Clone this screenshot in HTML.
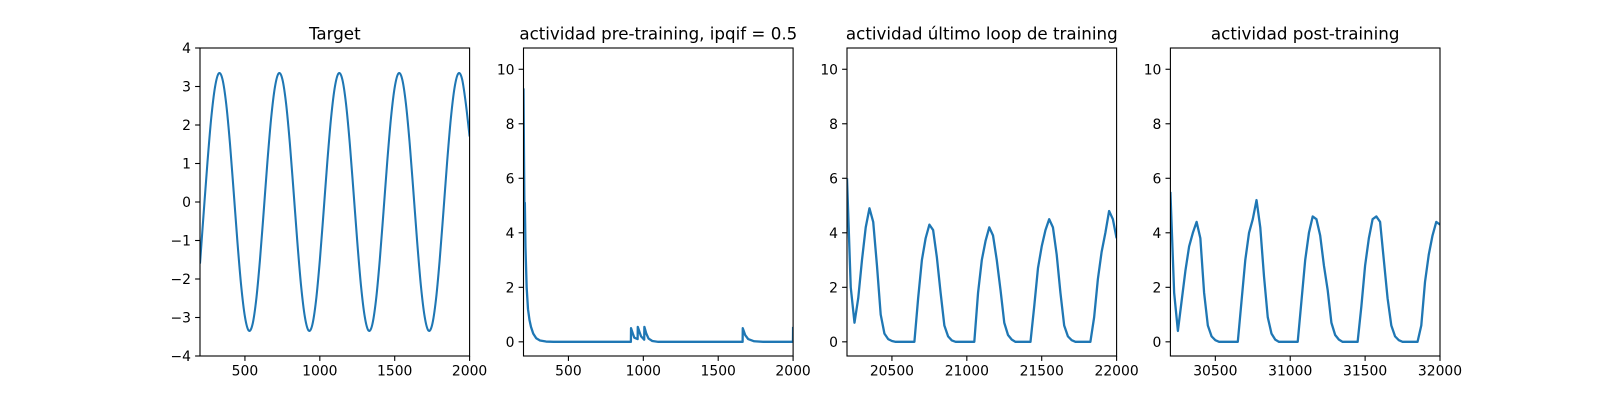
<!DOCTYPE html>
<html><head><meta charset="utf-8"><style>
body{margin:0;background:#fff}
svg{display:block}
text{font-family:"DejaVu Sans","Liberation Sans",sans-serif;fill:#000}
</style></head><body>
<svg id="fig" width="1600" height="400" viewBox="0 0 1600 400" xmlns="http://www.w3.org/2000/svg"></svg>
<script>
// Panel 1: Target
const targetX0 = 200, targetStep = 25;
const targetVals = [-1.6,-0.26,1.04,2.18,2.98,3.34,3.19,2.55,1.52,0.26,-1.04,-2.18,-2.98,-3.34,-3.19,-2.55,
 -1.52,-0.26,1.04,2.18,2.98,3.34,3.19,2.55,1.52,0.26,-1.04,-2.18,-2.98,-3.34,-3.19,-2.55,
 -1.52,-0.26,1.04,2.18,2.98,3.34,3.19,2.55,1.52,0.26,-1.04,-2.18,-2.98,-3.34,-3.19,-2.55,
 -1.52,-0.26,1.04,2.18,2.98,3.34,3.19,2.55,1.52,0.26,-1.04,-2.18,-2.98,-3.34,-3.19,-2.55,
 -1.52,-0.26,1.04,2.18,2.98,3.34,3.19,2.55,1.7];
// Panel 2: pre-training
const preX = [200,203,206,209,213,221,230,240,250,265,285,310,350,400,917,918,930,940,962,963,975,985,1006,1007,1020,1035,1060,1100,1663,1664,1680,1700,1740,1800,1999,2000];
const preY = [9.3,7,5,5.1,3.5,2.0,1.2,0.8,0.55,0.3,0.13,0.05,0.01,0,0,0.5,0.3,0.15,0.1,0.55,0.35,0.2,0.08,0.55,0.3,0.12,0.03,0,0,0.5,0.25,0.1,0.02,0,0,0.55];
// Panel 3: last training loop
const lastX0 = 20200, lastStep = 25;
const lastVals = [6.0,2.0,0.7,1.6,3.0,4.2,4.9,4.4,2.8,1.0,0.3,0.1,0.03,
 0,0,0,0,0,0,
 1.6,3.0,3.8,4.3,4.1,3.1,1.8,0.6,0.2,0.05,
 0,0,0,0,0,0,
 1.8,3.0,3.7,4.2,3.9,3.0,1.9,0.7,0.25,0.08,
 0,0,0,0,0,
 1.3,2.7,3.5,4.1,4.5,4.2,3.2,1.8,0.6,0.2,0.06,
 0,0,0,0,0,
 0.9,2.3,3.3,4.0,4.8,4.5,3.8];
// Panel 4: post-training
const postX0 = 30200, postStep = 25;
const postVals = [5.5,1.8,0.4,1.5,2.6,3.5,4.0,4.4,3.8,1.8,0.6,0.2,0.06,
 0,0,0,0,0,0,
 1.5,3.0,4.0,4.5,5.2,4.2,2.4,0.9,0.3,0.08,
 0,0,0,0,0,0,
 1.5,3.0,4.0,4.6,4.5,3.9,2.8,1.9,0.7,0.25,0.08,
 0,0,0,0,0,
 1.3,2.8,3.8,4.5,4.6,4.4,3.0,1.6,0.6,0.2,0.06,
 0,0,0,0,0,
 0.6,2.2,3.2,3.9,4.4,4.3];
const yTicks1 = [-4,-3,-2,-1,0,1,2,3,4];
const yTicksAct = [0,2,4,6,8,10];
const xTicks1 = [500,1000,1500,2000];
const xTicks3 = [20500,21000,21500,22000];
const xTicks4 = [30500,31000,31500,32000];

const NS="http://www.w3.org/2000/svg";
const fig=document.getElementById('fig');
function mk(tag,attrs,parent){const e=document.createElementNS(NS,tag);for(const k in attrs)e.setAttribute(k,attrs[k]);(parent||fig).appendChild(e);return e;}
const T=48,B=356,W=269.6;
function fmt(v){return v<0?'\u2212'+(-v):String(v);}
function panel(name,left,title,xmin,xmax,ymin,ymax,xt,yt,xs,ys,smooth){
  const g=mk('g',{});
  
  
  const sx=v=>left+(v-xmin)/(xmax-xmin)*W;
  const sy=v=>B-(v-ymin)/(ymax-ymin)*(B-T);
  const cp=mk('clipPath',{id:'c'+name},g);mk('rect',{x:left,y:T,width:W,height:B-T},cp);
  const pts=xs.map((x,i)=>[sx(x),sy(ys[i])]);
  let d='M'+pts[0][0].toFixed(2)+','+pts[0][1].toFixed(2);
  if(smooth){
    for(let i=0;i<pts.length-1;i++){
      const p0=pts[Math.max(0,i-1)],p1=pts[i],p2=pts[i+1],p3=pts[Math.min(pts.length-1,i+2)];
      d+=' C'+(p1[0]+(p2[0]-p0[0])/6).toFixed(2)+','+(p1[1]+(p2[1]-p0[1])/6).toFixed(2)+' '+(p2[0]-(p3[0]-p1[0])/6).toFixed(2)+','+(p2[1]-(p3[1]-p1[1])/6).toFixed(2)+' '+p2[0].toFixed(2)+','+p2[1].toFixed(2);
    }
  } else for(let i=1;i<pts.length;i++)d+=' L'+pts[i][0].toFixed(2)+','+pts[i][1].toFixed(2);
  const line=mk('path',{d:d,fill:'none',stroke:'#1f77b4','stroke-width':smooth?2.08:2.3,'stroke-linejoin':'round','clip-path':'url(#c'+name+')'},g);
  
  
  const fr=mk('rect',{x:left,y:T,width:W,height:B-T,fill:'none',stroke:'#000','stroke-width':1.1},g);
  
  
  xt.forEach(v=>{const x=sx(v);mk('line',{x1:x,x2:x,y1:B,y2:B+4.9,stroke:'#000','stroke-width':1.1},g);
    const t=mk('text',{x:x,y:B+19.5,'font-size':13.9,'text-anchor':'middle'},g);t.textContent=fmt(v);
    
    });
  yt.forEach(v=>{const y=sy(v);mk('line',{x1:left,x2:left-4.9,y1:y,y2:y,stroke:'#000','stroke-width':1.1},g);
    const t=mk('text',{x:left-9,y:y+5,'font-size':13.9,'text-anchor':'end'},g);t.textContent=fmt(v);
    
    });
  const tt=mk('text',{x:left+W/2,y:T-8.5,'font-size':16.7,'text-anchor':'middle'},g);tt.textContent=title;
  
  
}
const idx=(a,x0,st)=>a.map((_,i)=>x0+i*st);
panel('target-panel',200,'Target',200,2000,-4,4,xTicks1,yTicks1,idx(targetVals,targetX0,targetStep),targetVals,true);
panel('pre-training-panel',523.5,'actividad pre-training, ipqif = 0.5',200,2000,-0.52,10.78,xTicks1,yTicksAct,preX,preY,false);
panel('last-loop-panel',847,'actividad último loop de training',20200,22000,-0.52,10.78,xTicks3,yTicksAct,idx(lastVals,lastX0,lastStep),lastVals,false);
panel('post-training-panel',1170.4,'actividad post-training',30200,32000,-0.52,10.78,xTicks4,yTicksAct,idx(postVals,postX0,postStep),postVals,false);
</script>
</body></html>
